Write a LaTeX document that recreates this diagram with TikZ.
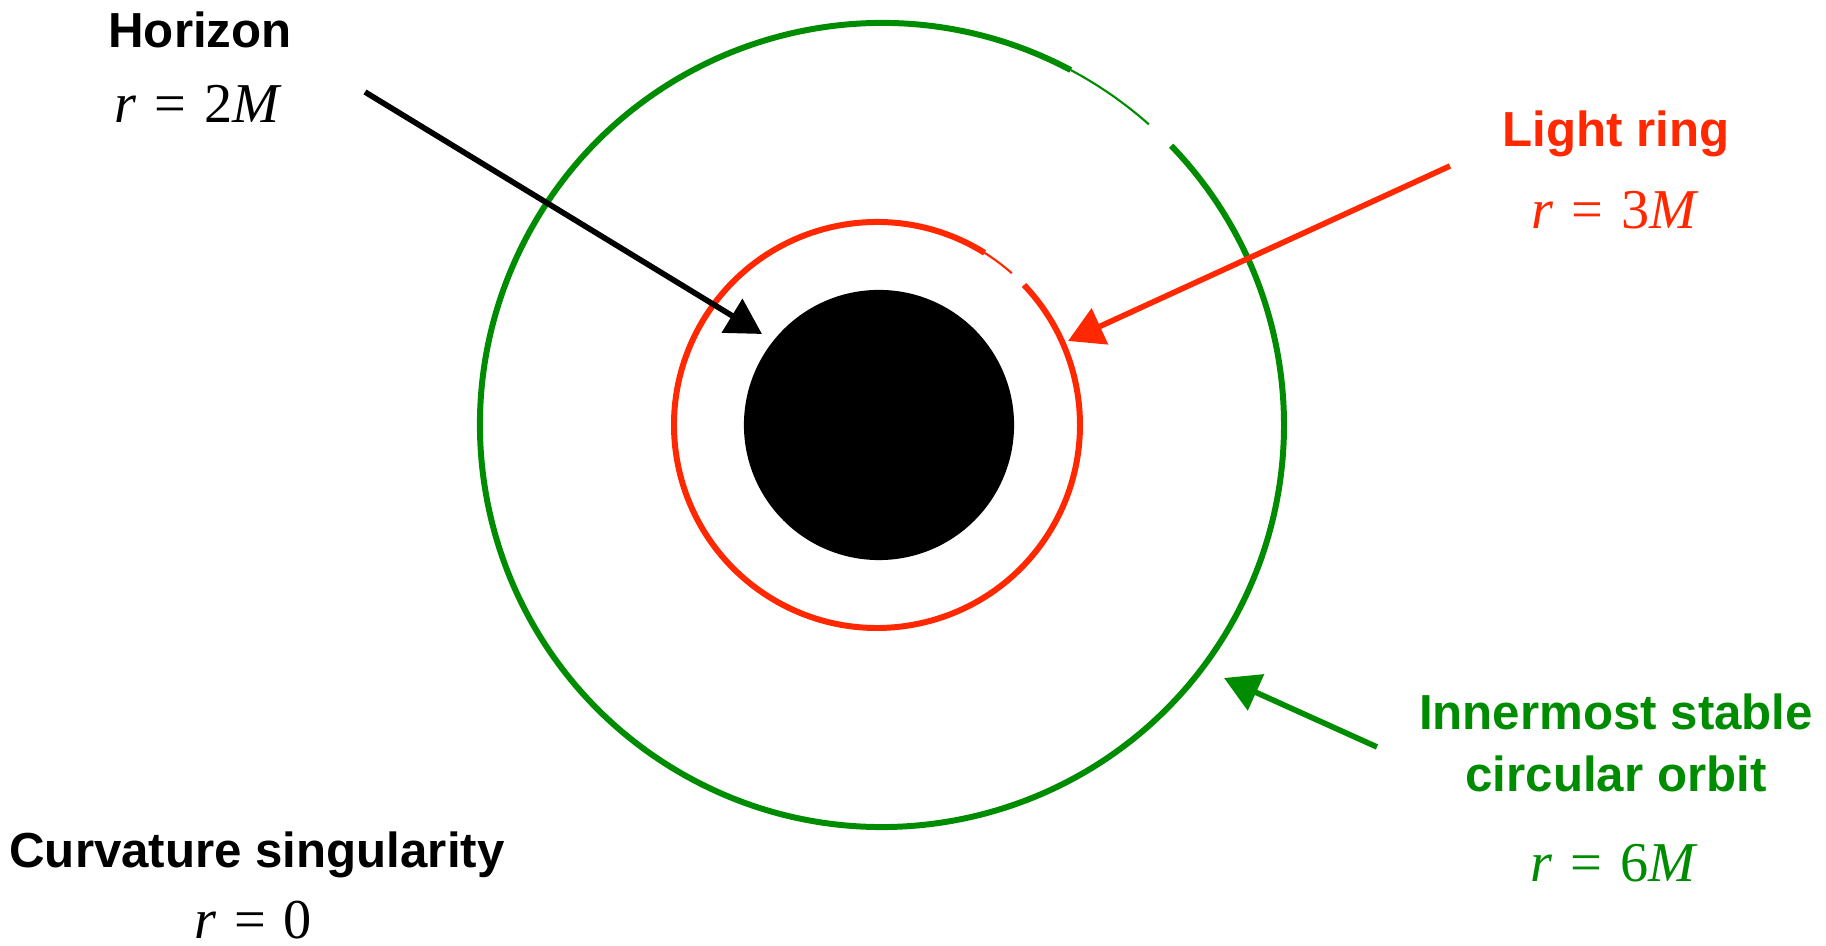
\documentclass[tikz,border=0pt]{standalone}
\usepackage{fontspec}
\setmainfont{Liberation Serif}
\newfontfamily\labelfont{Liberation Sans}
\usetikzlibrary{arrows.meta}

\definecolor{ringred}{RGB}{255,40,0}
\definecolor{iscogreen}{RGB}{0,140,0}
\newcommand{\req}[1]{\textit{r}\hspace{0.32em}=\hspace{0.32em}#1}

\begin{document}
\begin{tikzpicture}[x=0.01cm, y=0.01cm,
  title/.style={font=\labelfont\bfseries\fontsize{14}{17}\selectfont, anchor=base},
  eqn/.style={font=\fontsize{16}{19}\selectfont, anchor=base},
  pointer/.style={line width=1.6pt, -{Triangle[length=10pt, width=11pt]}},
  orbit/.style={line width=1.7pt}]
\useasboundingbox (0,0) rectangle (1826,946);

% black hole and the two orbits
\node[circle, fill=black, minimum size=2.7cm, inner sep=0pt] (hole) at (879,521) {};
\draw[orbit, ringred] (877,521) ++(58:203) arc (58:403.6:203);
\draw[orbit, ringred, line width=0.6pt] (877,521) ++(48.4:203) arc (48.4:58:203);
\draw[orbit, iscogreen] (882,521) ++(62:402) arc (62:404:402);
\draw[orbit, iscogreen, line width=0.6pt] (882,521) ++(48.4:402) arc (48.4:62:402);

% labels
\node[title] (hz) at (200,898) {Horizon};
\node[eqn] (hzeq) at (198,823) {\req{2\textit{M}}};
\node[title, ringred] (lr) at (1616,799) {Light ring};
\node[eqn, ringred] (lreq) at (1615,717) {\req{3\textit{M}}};
\node[title, iscogreen] (isco1) at (1616,216) {Innermost stable};
\node[title, iscogreen] (isco2) at (1616,154) {circular orbit};
\node[eqn, iscogreen] (iscoeq) at (1614,64) {\req{6\textit{M}}};
\node[title] (sing) at (257,78) {Curvature singularity};
\node[eqn] (singeq) at (253,7) {\req{0}};

% pointers
\coordinate (hzfrom) at (365,854);
\coordinate (hzto) at (762,612);
\coordinate (lrfrom) at (1450,780);
\coordinate (lrto) at (1068,605);
\coordinate (iscofrom) at (1377,199);
\coordinate (iscoto) at (1224,268);
\draw[pointer] (hzfrom) -- (hzto);
\draw[pointer, ringred] (lrfrom) -- (lrto);
\draw[pointer, iscogreen] (iscofrom) -- (iscoto);
\end{tikzpicture}
\end{document}
